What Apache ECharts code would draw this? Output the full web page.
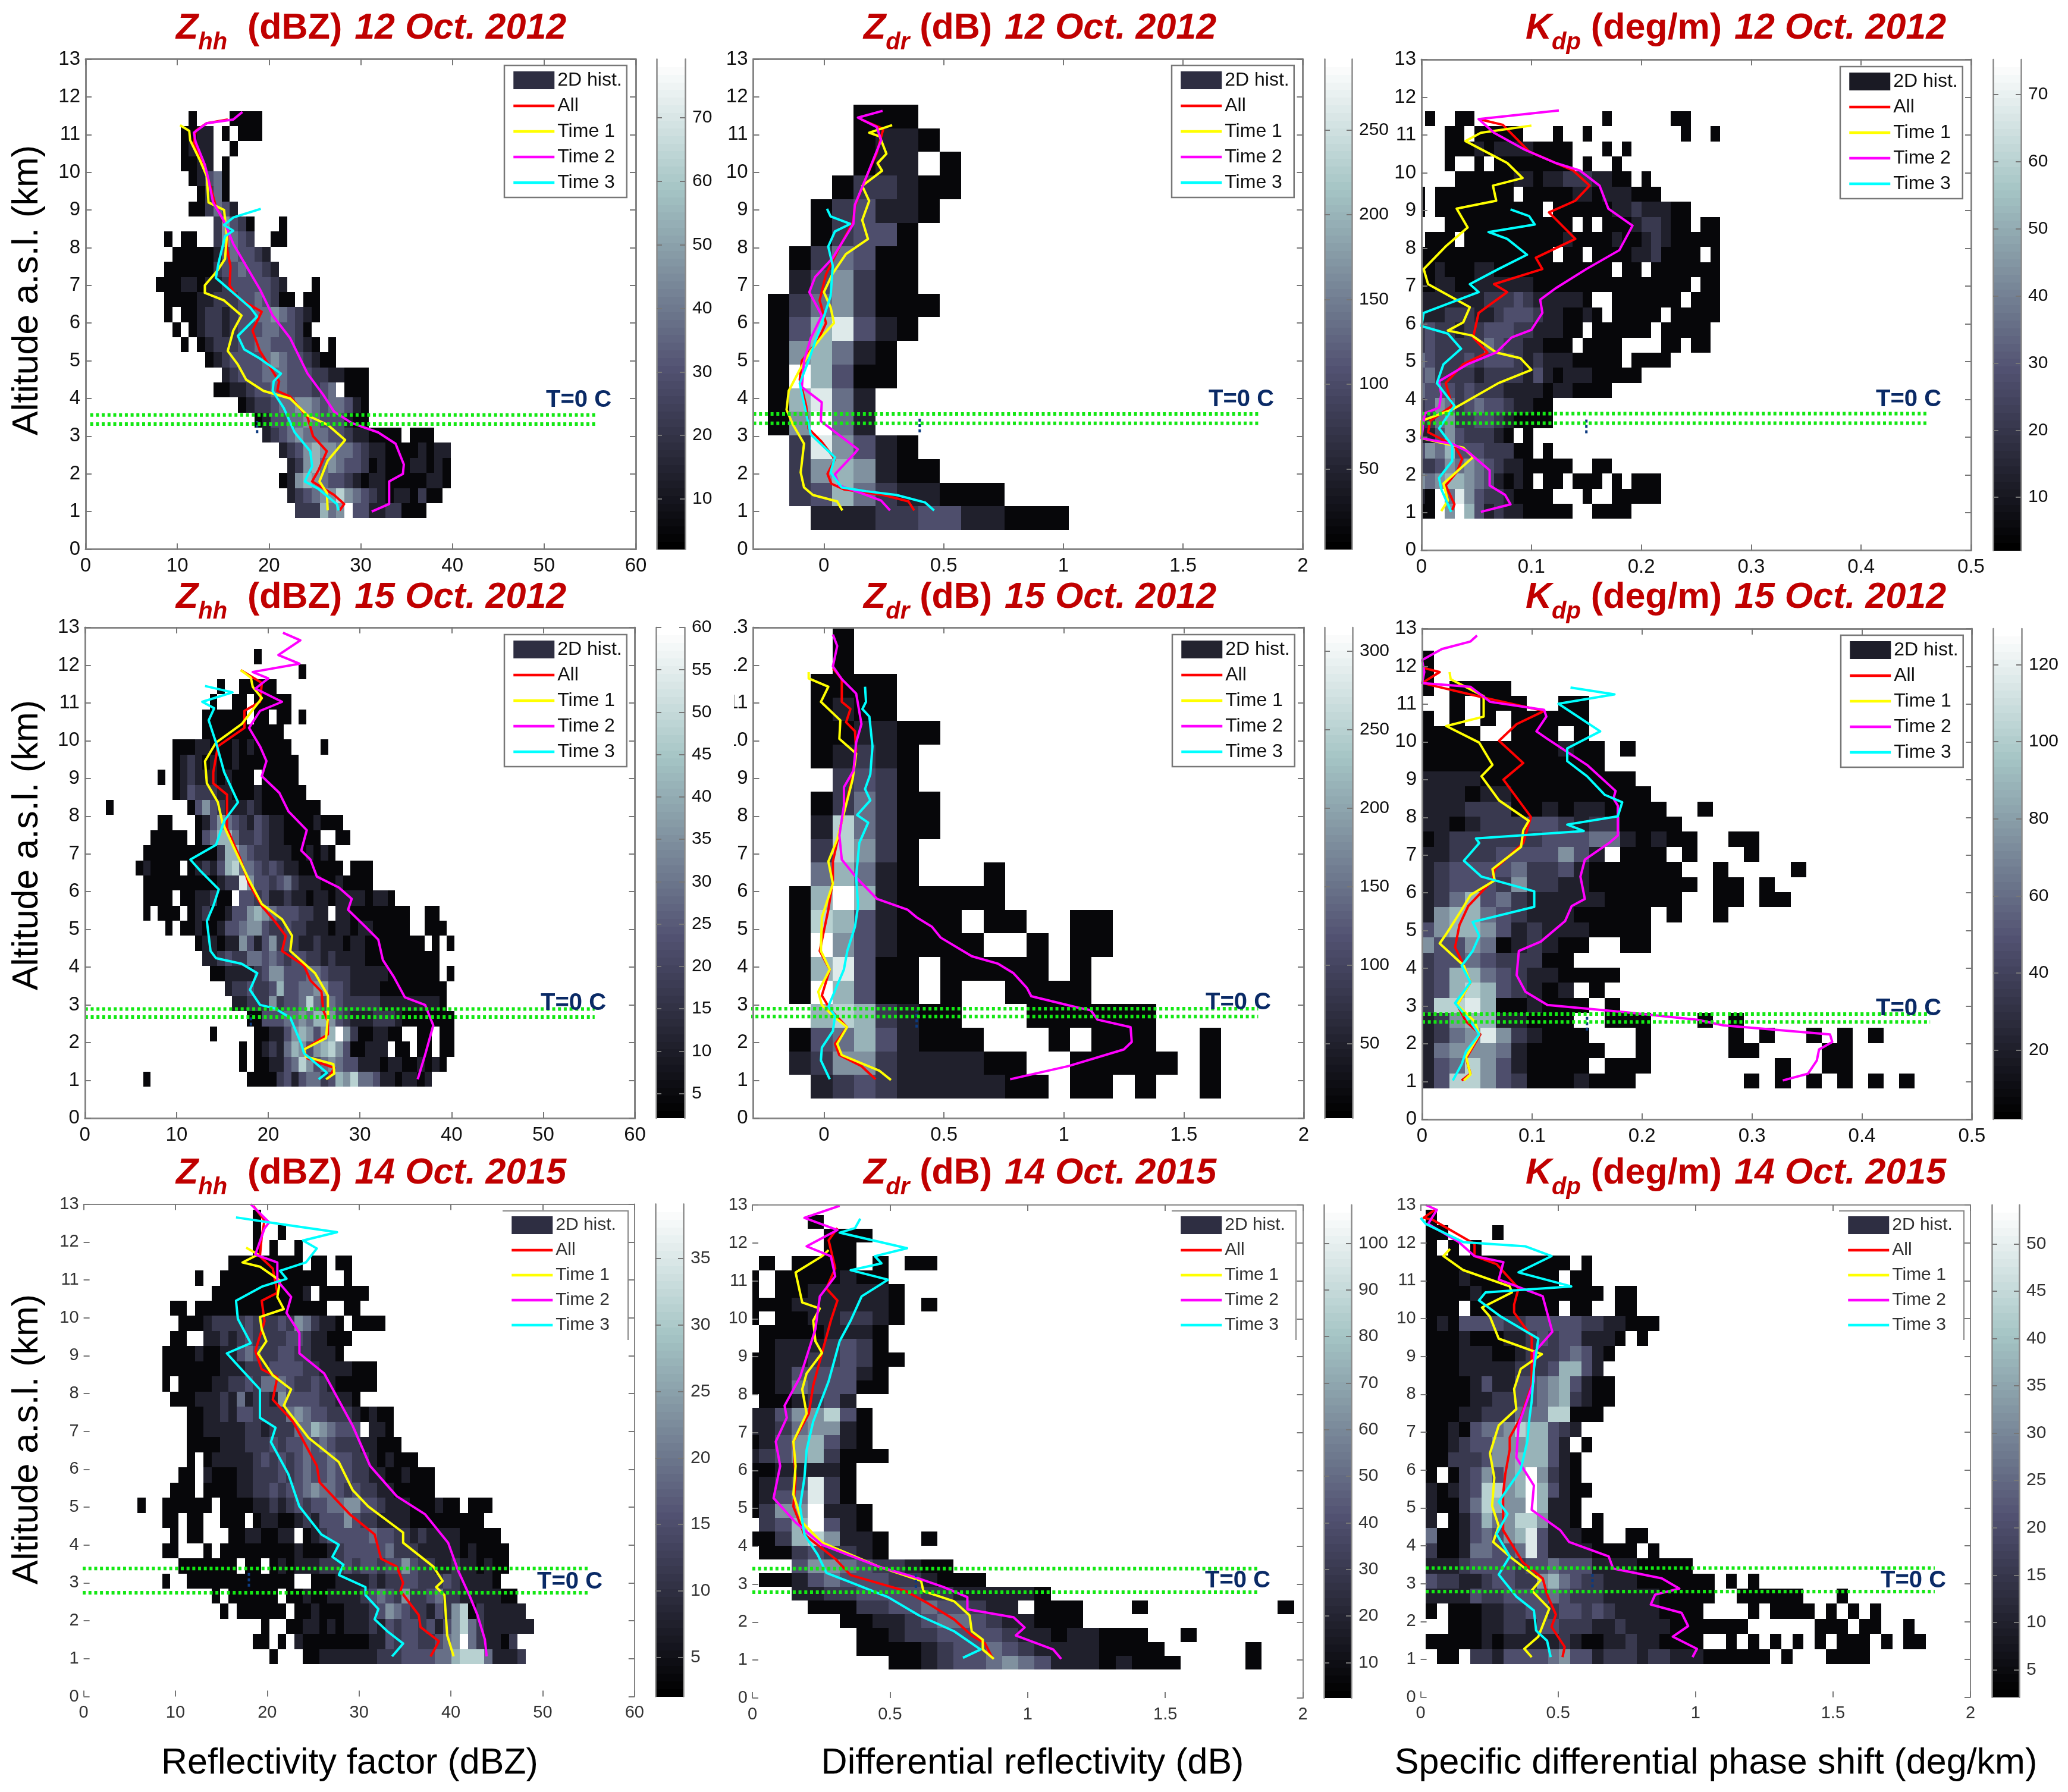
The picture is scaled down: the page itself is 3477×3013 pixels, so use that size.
<!DOCTYPE html>
<html><head><meta charset="utf-8">
<script src="https://cdn.jsdelivr.net/npm/echarts@6/dist/echarts.min.js"></script>
<style>html,body{margin:0;padding:0;background:#fff}#c{width:3477px;height:3013px}</style>
</head><body><div id="c"></div>
<script>
// ---------- 2D histograms: rows top to bottom, "startColumn:levels", level 0-9 of the colour bar, '.' = empty
const P1_hist=["4:0....0000","3:0011.0.000","3:0111..0","3:0011.0","4:01340","5:0240","4:002431","7:25320...0","1:0.00..25432..00","2:000001343321","1:00000023343321","0:0001101123333321...0","1:0000112223343200.00","1:0.00122123344543210","2:0.012212333443320","3:0.012223344333210.0","6:0123333454332100","8:123334443332211000","7:001123344333234.000","10:0122344554344310","12:01334454333100","13:12345444332110000.000","15:123565544321100001011","16:12564543320100011010","15:015654332101100000110","16:1234557543210110200","17:2226459331122000"];
const P2_hist=["4:000","4:0110","4:011.0","3:022100","2:023110","2:02330","1:024300","1:135200","0:02452000","0:0368310","0:056410","0:096300","0:06841","0:05941","1:285310","1:2565100","1:2364211000","2:111223311000"];
const P3_hist=["1:0..00.............0......00","3:00.00000...0..0.........0..0","3:0001011110000...0.0","3:0..0.00000000.0..0","4:000000110112221100.0","0:0.00000000.00000110111000","0:0.00000000000.00000011211100","3:0000000000000.0.000122100.00","1:000.00000000001000010012100000","0:00000000000000.00.00001120000.0","0:00100011000000000000.00.0000000","0:0011001111110000000000000000.00","0:111111122232111110..0000000.000","0:1112221123332110010.00000.00000","0:23221223332211100.000000.00000","0:2322222432211000.0000....00.00","0:432223233321211100000.0000","0:34222212222131011100000","0:43332322211110110000","0:23542343321100","0:12452233210000","0:1135322210.0","0:354633322200.0","0:2235454321100000..00","0:545665431010.00.000.0.000","0:10948532210000...0..00000","0:00.5963121100000..0000"];
const P4_hist=["20:0","26:0","15:0..00000","14:0..00.00000","13:000000.00.00.0","13:00000000000","9:0001100010100000....0","9:01210100100000000","7:0.01211101000.00000","9:013222110001000000","0:0..........035321112100000000","7:00...01354321321100001000","6:00000.03466422321100000..00","5:00000000002664322111001010","4:010000.012136744323211000000.000","5:0000000000122853323421110010000","5:0000.00112009332311211011011110110","5:0.000.0120013356543332211.1100000000..00","8:0.0010013345532232211101101100000..000","12:0110115313523211211101100000000.0.0","13:11232244343233221211110000000000","14:0011112355333443222111110000000.0","16:122322363344553321111000000000","17:11222523347434322222111111110","19:0033344546653211122210000000","14:0.....00113565356952001100..00.00","18:0.012146535675300111.00.00.00","18:0.00113475345433111011001010","5:0.............0000231344236574431101101"];
const P5_hist=["2:0","2:0","1:0000","1:0100","1:001100","1:01210","2:2320","1:024200","1:174200","1:27520","1:46410...0","0:0696100000","0:07631000.00..00","0:095310000..0.00","0:068300.00000.0","0:096300.0..0000","1:6762100...000000","0:034631000...0.000..0","0:12552111100..00000.0","1:12321111100.00.0..0"];
const P6_hist=["0:0","0:0","0:0.0000","2:0.000..00","0:0.0.0.00000","0:0000..000.0","0:000000000100.0","0:000000000000","0:11110000000000","0:111011000000000","0:1112220010110000..0","0:11012223321220000","0:012222223334410100..00","0:112223333531.000.0...0","0:12333342231000000..0....0","0:123332522110000000.00.0","0:12463421111100000..00.00","0:156643211100000.0..0","0:356653121110000","0:53354012100..00","0:2334322200","0:2366432110000","0:2367632101.0","0:27786001000.0","0:1256611000..000...0.0","0:12458521000...0.....0.0..0.0.0","0:145554100000..0.....00....00","0:13475310000.000........0..00","0:13775320001000.......0.0.0.0.0.0"];
const P7_hist=["14:0","14:0..0","14:0.0..0","11:000000000.00.00","7:0..0000000000000..0","9:000000000001.000000","4:00.0000000000000000..00","5:00012222322232542110.0000","4:00..112123222233211000","3:0000100113432233221110","3:00000001112223333221111000","3:0.000011223244432232100000","4:00011121412215333322110","6:0011213322224543322210100","6:001111122122244654333.110","6:00001112223233434322211000","6:0.01111123232343343322101000","5:00.1000112223234334332211001000","4:000.0000112232334544323221100000","0:0..000000.00001121232334455332111000100.000","3:00.00..000.0110012133353221111000000000","4:0.00...00110011.012333334332212111100000","3:00...0.00000000010001233333422211111010000","5:0000000.00.01011122232332335322112110100","3:0..0000000000000..00011112122332223211110","9:0.000000.0010011112343252234221111100","10:0.000000.0010001112354322132570211111","15:0..001101011121323323135742111111","14:00.0.10000000011323322345942110 2","16:0...001111111222333344677741112"].map(s=>s.replace(/ /g,''));
const P8_hist=["4:0","5:000","5:00","1:0.0000.0.00","0:0.0000100","0:0.00111110","0:0001111110.0","0:0.00112210","1:00001110","1:01112320","0:0011223200","0:001333310","0:001433300","1:001231","0:11355730","0:11245510","0:01356310","0:123562000","0:0011110","0:0123820","0:0134820","0:02559110","1:2369310","0:002675110..0","1:00232210","3:3554322100","1:00134333221000","3:1122333322111110","4:0002233433211.000...0........0","6:001123443211000","7:001223333211011000..0","7:0000123343211110000.....0","9:001233454311101000....0"];
const P9_hist=["0:0","0:00....0","0:0.0.0","0:0000000000000.0","0:000100000000.00","0:0000100000000000.00","0:000.00000000.00..00","0:010333322333332211000","0:000100011232331110.0","0:00011100122234310","0:0001111122236631","0:00001311334563100","0:00001122334562100","0:0001122244477000","0:00103445766321","0:0012335556631.0","0:00222355666310","0:0.023535695210","0:101237756963100","0:10024765596110","0:1.013645775110.0","0:4001343568311100..00","0:2001443348311110000.0","0:111233332334333111100000","0:32211233225643221110000000.0.0","0:11113223333432221111100000..000000...0","0:0.00011223323323211110000....0.0000.0.0.0","2:000112213322211211110000000......000.00..0","0:0000010111112 1001121100 00..0.0.0.0.0.000.0.00","1:00.221333345331222122111000000.0...0000"].map(s=>s.replace(/ /g,''));

// ---------- profiles: [x value, altitude km]
const P1_all=[[27.7,1.03],[28.2,1.2],[27.1,1.44],[24.7,1.8],[25.4,2.1],[26.3,2.6],[24.8,3],[24.2,3.5],[22.3,4.05],[20.9,4.2],[21.1,4.45],[19,5.26],[18.2,5.8],[19.2,6.3],[16.6,6.67],[15.7,7],[15.8,7.5],[15.4,8],[15.5,8.5],[14.2,9.1],[13.4,9.8],[13,10.15],[11.8,10.8],[12,11.1],[13.2,11.3],[15.5,11.4]];
const P1_t1=[[26.4,1.03],[26.3,1.5],[25.5,1.8],[26.4,2.35],[28.3,2.9],[26.4,3.3],[24.2,3.55],[22.3,4],[19.4,4.2],[17.5,4.5],[16.6,4.9],[15.5,5.26],[16.1,5.8],[17,6.2],[15.1,6.6],[13,6.8],[13,7],[14.4,7.4],[15.2,7.7],[15.4,8.3],[15.1,9],[13.4,9.2],[13.2,9.9],[12.5,10.3],[11.4,10.85],[11.3,11.1],[10.3,11.25]];
const P1_t2=[[31.2,1],[33.1,1.2],[33.1,1.8],[34.6,2],[34.7,2.25],[33.8,2.8],[31.9,3.1],[29,3.35],[27.1,3.65],[25.9,4.1],[24.2,4.66],[22.3,5.6],[20.4,6.2],[19,6.9],[17.3,7.6],[16.1,8.1],[15.1,8.7],[13.9,9.2],[13.4,9.8],[13,10.2],[12,10.8],[11.8,11.05],[13.2,11.3],[16.1,11.4],[17.1,11.6]];
const P1_t3=[[27.6,1.03],[27.4,1.2],[25.4,1.6],[23.9,1.8],[24.7,2.2],[24.5,2.6],[22.8,3.1],[21.6,3.75],[20.4,4.2],[20.5,4.45],[21.3,4.66],[19,5.06],[17.3,5.3],[16.6,5.66],[18.7,6.17],[18,6.4],[16.1,6.8],[14.2,7.2],[14.5,7.6],[14.9,8],[15.2,8.3],[16.1,8.45],[15.1,8.6],[16.1,8.8],[19.1,9.03]];
const P2_all=[[.377,1.03],[.353,1.27],[.248,1.44],[.083,1.59],[.031,1.74],[.015,2],[.046,2.39],[-.009,2.85],[-.064,3.2],[-.074,3.8],[-.101,4.5],[-.092,5],[-.028,5.5],[.009,6],[-.018,6.6],[.009,7.3],[.064,8],[.123,8.7],[.129,9.1],[.175,9.84],[.22,10.5],[.248,11.15],[.156,11.4]];
const P2_t1=[[.077,1.03],[.055,1.27],[-.046,1.44],[-.083,1.64],[-.097,2.04],[-.083,2.8],[-.129,3.3],[-.156,3.7],[-.147,4.2],[-.101,4.76],[-.055,5.26],[0,5.71],[.042,6],[.028,6.42],[0,6.82],[.037,7.32],[.092,7.83],[.184,8.23],[.16,8.73],[.189,9.24],[.16,9.64],[.243,10.04],[.224,10.24],[.261,10.49],[.233,10.95],[.189,11.05],[.285,11.25]];
const P2_t2=[[.276,1.03],[.239,1.29],[.156,1.49],[.064,1.69],[.046,1.99],[.129,2.55],[.142,2.65],[.028,3.2],[-.013,3.4],[-.009,3.9],[-.092,4.3],[-.083,5],[-.055,5.6],[-.009,6.2],[-.061,6.82],[-.037,7.22],[.037,7.73],[.123,8.63],[.129,9.13],[.175,9.84],[.239,10.85],[.221,11.2],[.142,11.45],[.245,11.63]];
const P2_t3=[[.46,1.03],[.423,1.24],[.303,1.44],[.175,1.54],[.074,1.64],[.028,2.04],[.046,2.44],[-.055,3.05],[-.074,3.6],[-.101,4.4],[-.064,5],[-.037,5.5],[-.009,6],[.028,6.72],[.037,7.52],[.018,8.03],[.046,8.43],[.11,8.63],[.028,8.83],[.013,9.03]];
const P3_all=[[.028,1.07],[.03,1.22],[.022,1.72],[.032,2.07],[.037,2.42],[.03,2.77],[.006,3.13],[.008,3.43],[.028,3.83],[.022,4.43],[.038,4.93],[.06,5.24],[.047,5.64],[.052,6.29],[.078,6.84],[.066,7.05],[.11,7.45],[.104,7.75],[.14,8.25],[.116,8.95],[.14,9.26],[.153,9.66],[.138,10.06],[.098,10.56],[.074,11.27],[.052,11.42]];
const P3_t1=[[.018,1.04],[.024,1.32],[.02,1.77],[.047,2.47],[.038,2.72],[0,2.97],[0,3.43],[.028,3.73],[.07,4.43],[.1,4.78],[.09,5.09],[.068,5.24],[.046,5.69],[.024,5.82],[.038,6.04],[.044,6.44],[.006,7.05],[.002,7.45],[.022,8.05],[.042,8.55],[.032,9.05],[.068,9.26],[.065,9.66],[.092,9.86],[.078,10.26],[.04,10.84],[.054,11.06],[.1,11.25]];
const P3_t2=[[.054,1.02],[.081,1.22],[.076,1.47],[.062,1.72],[.062,2.12],[.042,2.62],[.028,2.82],[0,2.97],[.003,3.63],[.016,3.78],[.018,4.13],[.016,4.48],[.042,4.93],[.068,5.24],[.082,5.64],[.1,5.84],[.11,6.29],[.108,6.64],[.122,6.94],[.15,7.45],[.18,7.95],[.192,8.6],[.17,9.05],[.162,9.66],[.144,10.06],[.122,10.26],[.094,10.61],[.066,11.06],[.052,11.42],[.125,11.65]];
const P3_t3=[[.027,1.02],[.018,1.62],[.016,1.92],[.028,2.37],[.028,2.77],[.016,3.23],[.03,3.83],[.014,4.43],[.02,4.93],[.036,5.34],[.024,5.74],[0,5.94],[.002,6.29],[.052,6.84],[.044,7.05],[.07,7.45],[.096,7.83],[.078,8.25],[.061,8.43],[.103,8.63],[.098,8.85],[.081,9.03]];
const P4_all=[[26.5,1.03],[27.2,1.33],[24.3,1.58],[23.9,1.82],[26.5,2.22],[26.5,2.56],[26,2.86],[25.8,3.35],[24.6,3.65],[23.9,4.04],[21.5,4.43],[21.9,4.83],[20.7,5.22],[19.3,5.62],[17.9,6.21],[16.9,6.9],[15.5,7.68],[15.5,8.18],[15.5,8.57],[14,8.87],[14,9.16],[14.5,9.85],[17.4,10.34],[17.4,10.79],[19.1,11.03],[19.3,11.53],[17,11.87]];
const P4_t1=[[26.3,1.03],[27.2,1.18],[27.1,1.43],[24.1,1.63],[23.9,1.82],[26.3,2.12],[26.5,2.66],[26.5,3.25],[25.1,3.84],[22.4,4.43],[22.6,4.83],[21.5,5.27],[19.3,5.67],[17.9,6.31],[16.2,7.19],[15,7.83],[14.5,8.37],[13.3,8.87],[13.1,9.46],[14.3,9.95],[17.1,10.44],[19.3,11.13],[18.3,11.43],[18.1,11.67],[17,11.87]];
const P4_t2=[[36.3,1.03],[37.1,1.67],[38,2.46],[37.1,3],[34.9,3.2],[33.7,3.74],[32.5,4.19],[32,4.73],[30.6,5.07],[28.7,5.52],[29.1,5.81],[27.7,6.11],[25.3,6.4],[24.6,6.85],[23.6,7.09],[24.2,7.63],[22.2,8.13],[21.2,8.62],[19.3,9.06],[19.8,9.46],[19.1,9.85],[17.9,10.34],[19.1,10.79],[21.5,11.03],[18.6,11.38],[20,11.65],[18.3,11.82],[23.4,12.04],[21.1,12.27],[23.5,12.66],[21.6,12.86]];
const P4_t3=[[25.5,1.03],[26.4,1.2],[23.9,1.72],[23.6,1.97],[22.4,2.66],[20.7,2.91],[19.1,3],[18,3.4],[18.8,3.84],[17.1,4.09],[14.3,4.24],[13.7,4.43],[13.3,5.22],[14,5.62],[14.6,6.06],[12.6,6.55],[11.5,6.85],[14.3,7.24],[15.2,7.88],[16.7,8.37],[15.2,9.16],[14.3,9.95],[13.5,10.54],[14.1,10.86],[12.8,11.03],[16.1,11.28],[13.1,11.45]];
const P5_all=[[.215,1.03],[.156,1.38],[.064,1.67],[.046,1.97],[.096,2.41],[.028,2.86],[-.009,3.25],[.024,3.94],[-.018,4.43],[.018,5.52],[.037,6.31],[.037,6.8],[.074,7.88],[.119,9.06],[.134,9.75],[.129,10.25],[.092,10.49],[.11,10.84],[.074,11.03],[.074,11.63],[.037,11.92]];
const P5_t1=[[.279,1.01],[.23,1.26],[.074,1.67],[.055,1.97],[.096,2.41],[.037,2.71],[-.009,3],[-.024,3.35],[.024,3.94],[-.013,4.43],[-.009,5.32],[.037,6.21],[.018,6.8],[.055,7.39],[.083,8.08],[.119,8.97],[.134,9.66],[.064,10.05],[.068,10.54],[-.013,11.03],[.018,11.43],[-.064,11.65],[-.064,11.82]];
const P5_t2=[[.776,1.03],[1.02,1.38],[1.25,1.82],[1.283,2.02],[1.278,2.41],[1.14,2.61],[1.112,2.86],[1.057,2.93],[.864,3.23],[.846,3.45],[.79,3.84],[.726,4.09],[.616,4.29],[.487,4.78],[.45,5.07],[.386,5.32],[.349,5.52],[.221,5.81],[.138,6.35],[.074,6.85],[.064,7.49],[.083,8.28],[.083,8.77],[.123,9.21],[.134,9.95],[.156,10.44],[.134,11.25],[.074,11.63],[.037,11.97],[.055,12.51],[.037,12.81]];
const P5_t3=[[.024,1.03],[-.013,1.53],[-.009,1.87],[.037,2.31],[.046,2.71],[.018,2.96],[.083,3.94],[.097,4.43],[.129,5.07],[.142,5.62],[.134,6.4],[.147,7.29],[.184,7.83],[.138,8.03],[.193,8.42],[.171,8.72],[.193,9.11],[.202,9.85],[.189,10.64],[.16,10.84],[.175,11.03],[.171,11.43]];
const P6_all=[[.036,1.03],[.044,1.21],[.04,1.61],[.053,2.25],[.04,2.59],[.032,3.03],[.044,3.63],[.038,4.07],[.03,4.56],[.034,5.15],[.042,5.65],[.064,6.33],[.066,6.63],[.092,7.32],[.099,8.01],[.074,9],[.092,9.44],[.07,10.03],[.086,10.47],[.111,10.82],[.058,11.16],[0,11.56],[.016,11.85],[0,11.97]];
const P6_t1=[[.038,1.03],[.044,1.19],[.04,1.66],[.052,2.25],[.048,2.59],[.032,3.03],[.044,3.63],[.038,4.07],[.016,4.66],[.022,4.91],[.036,5.55],[.044,5.94],[.066,6.33],[.064,6.63],[.09,7.22],[.092,7.66],[.097,7.91],[.07,8.45],[.054,9.09],[.064,9.39],[.052,9.98],[.022,10.42],[.056,10.67],[.056,11.21],[.026,11.66],[.025,11.85]];
const P6_t2=[[.328,1.03],[.351,1.21],[.359,1.56],[.361,1.85],[.373,2.05],[.371,2.25],[.274,2.49],[.25,2.64],[.184,2.84],[.114,3.03],[.094,3.38],[.086,3.82],[.088,4.46],[.108,4.71],[.13,5.25],[.136,5.65],[.148,5.84],[.144,6.43],[.148,6.88],[.17,7.32],[.178,7.52],[.178,8.31],[.174,8.5],[.176,8.7],[.15,9.39],[.114,10.08],[.104,10.28],[.113,10.67],[.111,10.85],[.062,11.06],[.044,11.46],[0,11.56],[.002,11.85],[0,12.17],[.018,12.46],[.044,12.66],[.05,12.82]];
const P6_t3=[[.028,1.03],[.036,1.46],[.04,1.8],[.052,2.25],[.044,2.59],[.03,3.08],[.044,3.63],[.036,4.07],[.046,4.46],[.052,4.86],[.046,5.23],[.102,5.63],[.102,6.04],[.054,6.43],[.038,6.85],[.052,7.32],[.049,7.44],[.147,7.64],[.132,7.81],[.178,8.03],[.182,8.4],[.166,8.6],[.15,9.09],[.132,9.49],[.132,9.83],[.162,10.28],[.124,11.01],[.175,11.26],[.135,11.44]];
const P7_all=[[37.8,1.06],[38.7,1.46],[36.7,1.83],[36.5,2.15],[34.5,2.79],[34.8,3],[34.1,3.43],[32.4,3.64],[31.7,4.28],[29,4.81],[25.7,5.66],[25.4,6.09],[24,6.72],[22.8,7.26],[20.6,7.84],[21.1,8.43],[19.4,8.64],[18.7,9.12],[19.7,9.91],[19.4,10.45],[21.1,10.66],[20.6,11.3],[19.2,11.62],[19.4,12.15],[19.7,12.57],[18.5,12.95]];
const P7_t1=[[40.3,1.06],[39.6,1.62],[39.3,2.68],[38.4,2.89],[39.1,3.05],[38.1,3.43],[34.8,4.06],[34.8,4.33],[31,5.02],[29.3,5.45],[27.8,6.19],[24.5,6.83],[21.8,7.68],[22.6,8.11],[20.6,8.48],[19,9.06],[19.9,9.38],[19.4,9.7],[19.2,10.02],[21.8,10.23],[21.1,10.55],[21.4,10.98],[19.2,11.35],[17.3,11.46],[19,11.67],[17.7,11.85]];
const P7_t2=[[43.9,1.06],[43.7,1.51],[42.9,2.15],[42,2.68],[40.8,3.32],[39.7,4.06],[37.2,4.81],[34.1,5.29],[31.2,6.09],[29.3,7.15],[26.2,8.53],[23.5,9.06],[23.5,9.6],[22.1,10.13],[22.6,10.55],[21.1,10.98],[21.1,11.46],[18.7,11.67],[19.7,12.36],[20.2,12.52],[18.2,13]];
const P7_t3=[[33.6,1.06],[34.8,1.4],[33.1,1.72],[31.7,2.04],[32.1,2.31],[30.7,2.68],[30.7,2.89],[27.8,3.21],[28.3,3.48],[27.1,3.69],[27.8,4.01],[25.9,4.28],[23.5,5.02],[22.3,5.87],[20.4,6.72],[20.9,7.1],[19.2,7.36],[19.2,8.11],[16.8,8.74],[15.6,9.06],[18.2,9.33],[16.8,9.97],[16.6,10.45],[19.4,10.82],[22.1,11.03],[21.4,11.24],[24.2,11.46],[25.4,11.83],[23.9,12.04],[27.6,12.26],[20.2,12.52],[16.6,12.65]];
const P8_all=[[.874,1.03],[.845,1.44],[.797,1.65],[.733,2.07],[.637,2.5],[.557,2.82],[.357,3.24],[.301,3.67],[.189,4.31],[.149,5.05],[.157,5.8],[.149,6.76],[.205,7.5],[.221,8.24],[.253,9.1],[.285,9.95],[.309,10.48],[.269,10.8],[.301,11.33],[.277,12.07],[.309,12.39]];
const P8_t1=[[.877,1.03],[.837,1.28],[.837,1.54],[.797,1.76],[.789,2.18],[.733,2.55],[.621,2.82],[.613,3.09],[.461,3.46],[.253,4.1],[.181,4.63],[.149,5.37],[.157,6.12],[.149,6.76],[.197,7.5],[.181,8.14],[.197,8.56],[.253,9.1],[.229,9.41],[.221,9.95],[.245,10.27],[.181,10.43],[.157,11.22],[.253,11.65],[.277,11.81]];
const P8_t2=[[1.122,1.03],[1.093,1.28],[.957,1.65],[.989,1.86],[.949,2.13],[.781,2.34],[.781,2.66],[.693,2.93],[.589,3.19],[.461,3.46],[.253,4.04],[.157,4.63],[.077,5.27],[.101,6.12],[.085,6.76],[.125,7.39],[.117,7.71],[.173,8.46],[.192,8.88],[.229,9.73],[.245,10.59],[.301,11.12],[.285,11.65],[.197,11.91],[.309,12.34],[.189,12.66],[.317,12.98]];
const P8_t3=[[.765,1.06],[.829,1.28],[.733,1.76],[.605,2.18],[.493,2.66],[.365,3.03],[.269,3.3],[.237,3.78],[.189,4.31],[.173,5.05],[.189,5.8],[.197,6.54],[.221,7.29],[.277,8.35],[.317,9.41],[.357,9.95],[.397,10.59],[.493,11.03],[.357,11.28],[.469,11.46],[.445,11.65],[.562,11.86],[.317,12.27],[.373,12.39],[.392,12.64]];
const P9_all=[[.516,1.06],[.524,1.33],[.476,1.86],[.492,2.18],[.46,2.71],[.444,3.14],[.372,3.56],[.3,4.41],[.3,5.37],[.308,5.9],[.324,6.54],[.324,6.86],[.364,7.39],[.404,8.24],[.404,9.2],[.404,9.52],[.34,10.16],[.34,10.37],[.356,10.8],[.276,11.44],[.196,11.65],[.196,11.97],[.043,12.61],[.011,12.66],[.051,12.87]];
const P9_t1=[[.404,1.06],[.377,1.28],[.428,1.6],[.468,2.34],[.404,2.82],[.436,3.09],[.332,3.67],[.264,4.1],[.284,4.52],[.26,5.05],[.268,5.8],[.252,6.44],[.284,7.18],[.348,7.61],[.34,8.14],[.364,8.67],[.441,9.06],[.284,9.47],[.252,10.05],[.223,10.29],[.332,10.69],[.324,10.85],[.155,11.28],[.083,11.65],[.107,11.84]];
const P9_t2=[[.989,1.06],[1.005,1.28],[.917,1.6],[.973,1.88],[.949,2.23],[.837,2.45],[.853,2.71],[.941,2.87],[.877,3.14],[.7,3.4],[.684,3.72],[.54,4.1],[.508,4.41],[.404,4.95],[.412,5.59],[.348,6.33],[.356,7.18],[.412,8.35],[.412,9.1],[.479,9.65],[.444,10.59],[.284,11.03],[.301,11.49],[.196,11.65],[.139,12.02],[.027,12.5],[.059,12.87],[.019,13]];
const P9_t3=[[.473,1.06],[.46,1.49],[.42,1.76],[.412,2.29],[.348,2.66],[.284,3.24],[.324,3.72],[.276,4.31],[.316,4.84],[.284,5.16],[.364,6.01],[.388,6.76],[.396,7.39],[.404,7.82],[.412,8.67],[.428,9.47],[.292,10.05],[.212,10.48],[.236,10.69],[.548,10.85],[.356,11.22],[.476,11.65],[.38,11.91],[.155,12.02],[.019,12.5],[0,12.66]];

// ---------- tick labels
const altTicks=[0,1,2,3,4,5,6,7,8,9,10,11,12,13];
const zhTicks=[0,10,20,30,40,50,60];
const zdTicks=[0,.5,1,1.5,2];
const kd1Ticks=[0,.1,.2,.3,.4,.5];
const kd2Ticks=[0,.5,1,1.5,2];
const cb1=[10,20,30,40,50,60,70],cb2=[50,100,150,200,250],cb3=[10,20,30,40,50,60,70];
const cb4=[5,10,15,20,25,30,35,40,45,50,55,60],cb5=[50,100,150,200,250,300],cb6=[20,40,60,80,100,120];
const cb7=[5,10,15,20,25,30,35],cb8=[10,20,30,40,50,60,70,80,90,100],cb9=[5,10,15,20,25,30,35,40,45,50];

// ---------- panel layout table
const FONT='"Liberation Sans",Arial,sans-serif';
const panels=[
 {hist:P1_hist,bin:[7.68,.893,.825,.4],lines:[P1_all,P1_t1,P1_t2,P1_t3],box:[144,99.5,1069,923.5],xr:[0,60],xt:zhTicks,cb:[2.1,79.2],cbt:cb1,cbx:[1104,1152],iso:[3.56,3.32],isoX:[.5,55.8],mk:[18.7,3.08,3.4],lg:[848,110,210,212],lc:'#2e2e42',T:[973,673],title:['Z','hh','  (dBZ) ','12 Oct. 2012',296,48]},
 {hist:P2_hist,bin:[-.235,.0899,.51,.627],lines:[P2_all,P2_t1,P2_t2,P2_t3],box:[1266.5,99.5,2190.5,923.5],xr:[-.295,2],xt:zdTicks,cb:[2.7,291.7],cbt:cb2,cbx:[2227,2273],iso:[3.59,3.34],isoX:[-.295,1.825],mk:[.4,3.1,3.5],lg:[1970,110,210,212],lc:'#2e2e42',T:[2087,672],title:['Z','dr',' (dB) ','12 Oct. 2012',1452,48]},
 {hist:P3_hist,bin:[-.0057,.00895,.834,.4],lines:[P3_all,P3_t1,P3_t2,P3_t3],box:[2390,100,3314,925.4],xr:[0,.5],xt:kd1Ticks,cb:[2.1,75.2],cbt:cb3,cbx:[3351,3398],iso:[3.62,3.37],isoX:[0,.461],mk:[.15,3.1,3.5],lg:[3094,112,210,212],lc:'#1a1a24',T:[3209,672],title:['K','dp',' (deg/m) ','12 Oct. 2012',2565,48]},
 {hist:P4_hist,bin:[2.3,.808,.83,.4],lines:[P4_all,P4_t1,P4_t2,P4_t3],box:[142.8,1055,1067.6,1880],xr:[0,60],xt:zhTicks,cb:[2.1,60],cbt:cb4,cbx:[1103,1151],iso:[2.89,2.68],isoX:[0,55.6],mk:[18.1,2.45,2.75],lg:[848,1067,209,211],lc:'#2e2e42',T:[964,1687],title:['Z','hh','  (dBZ) ','15 Oct. 2012',296,1005]},
 {hist:P5_hist,bin:[-.145,.09,.52,.625],lines:[P5_all,P5_t1,P5_t2,P5_t3],box:[1266.5,1055,2192,1880],xr:[-.295,2],xt:zdTicks,cb:[2.4,315],cbt:cb5,cbx:[2227,2274],iso:[2.9,2.69],isoX:[-.31,1.81],mk:[.386,2.4,2.85],lg:[1971,1067,210,211],lc:'#23232f',T:[2082,1686],title:['Z','dr',' (dB) ','15 Oct. 2012',1452,1005]},
 {hist:P6_hist,bin:[-.0033,.0141,.82,.4],lines:[P6_all,P6_t1,P6_t2,P6_t3],box:[2391,1057,3315.4,1882],xr:[0,.5],xt:kd1Ticks,cb:[2.1,129.3],cbt:cb6,cbx:[3351,3399],iso:[2.79,2.58],isoX:[0,.462],mk:[.15,2.35,2.75],lg:[3095,1068,210,212],lc:'#1e1e2a',T:[3209,1696],title:['K','dp',' (deg/m) ','15 Oct. 2012',2565,1005]},
 {hist:P7_hist,bin:[5.85,.9,.85,.4],lines:[P7_all,P7_t1,P7_t2,P7_t3],box:[140.6,2024.6,1066.8,2852.5],xr:[0,60],xt:zhTicks,cb:[2.04,39.1],cbt:cb7,cbx:[1102,1149],iso:[3.38,2.74],isoX:[-.1,55],mk:[18,2.9,3.3],lg:[845,2036,211,217],lc:'#2e2e42',T:[958,2660],title:['Z','hh','  (dBZ) ','14 Oct. 2015',296,1973],r3:1},
 {hist:P8_hist,bin:[-.035,.0589,.755,.363],lines:[P8_all,P8_t1,P8_t2,P8_t3],box:[1265,2026,2190.6,2855],xr:[0,2],xt:zdTicks,cb:[2.4,108.2],cbt:cb8,cbx:[2226,2272],iso:[3.41,2.79],isoX:[0,1.837],mk:[.594,2.9,3.3],lg:[1970,2036,209,217],lc:'#2e2e42',T:[2081,2658],title:['Z','dr',' (dB) ','14 Oct. 2015',1452,1973],r3:1},
 {hist:P9_hist,bin:[.019,.0404,.87,.4],lines:[P9_all,P9_t1,P9_t2,P9_t3],box:[2388.6,2026,3313,2853.7],xr:[0,2],xt:kd2Ticks,cb:[2.1,54.1],cbt:cb9,cbx:[3349,3395],iso:[3.41,2.79],isoX:[.019,1.87],mk:[.625,2.9,3.3],lg:[3092,2036,210,217],lc:'#2e2e42',T:[3217,2658],title:['K','dp',' (deg/m) ','14 Oct. 2015',2565,1973],r3:1}
];
const names=['All','Time 1','Time 2','Time 3'],colors=['#ff0000','#ffff00','#ff00ff','#00ffff'];

// MATLAB "bone" colour scale, 64 steps
function bone(t){t=Math.max(0,Math.min(1,Math.floor(t*63.999)/63));
 const c=v=>Math.max(0,Math.min(1,v));
 const r=(7*t+c((t-.74)/.26))/8,g=(7*t+c((t-.365)/.375))/8,b=(7*t+c(t/.365))/8;
 return 'rgb('+Math.round(r*255)+','+Math.round(g*255)+','+Math.round(b*255)+')';}

function cells(p){const [x0,dx,alt0,dy]=p.bin,[lo,hi]=p.cb,n=p.hist.length,out=[];
 p.hist.forEach((row,r)=>{const k=row.indexOf(':'),s=+row.slice(0,k),txt=row.slice(k+1);
  for(let i=0;i<txt.length;i++){const ch=txt[i];if(ch==='.')continue;
   const a=alt0+(n-1-r)*dy,x=x0+(s+i)*dx;
   out.push([x,a,x+dx,a+dy,lo+(+ch+.35)/9.35*(hi-lo)]);}});
 return out;}

const AXC='#858585';
const grid=[],xAxis=[],yAxis=[],series=[],legend=[],title=[],gfx=[];
panels.forEach((p,i)=>{
 const [l,t,r,b]=p.box,G=grid.length,r3=!!p.r3,fs=r3?29:33,tc=r3?'#333':'#111';
 grid.push({left:l,top:t,width:r-l,height:b-t,show:false});
 const ax=(extra)=>Object.assign({gridIndex:G,type:'value',splitLine:{show:false},z:6,
   axisTick:{inside:true,length:10,lineStyle:{color:'#777',width:2}},
   axisLine:{show:true,onZero:false,lineStyle:{color:AXC,width:r3?2:3}}},extra);
 const xi=xAxis.length,yi=yAxis.length;
 const lab=(vals,m)=>({show:true,customValues:vals,margin:m,fontSize:fs,color:tc,fontFamily:FONT});
 xAxis.push(ax({position:'bottom',min:p.xr[0],max:p.xr[1],axisLabel:lab(p.xt,r3?13:12),axisTick:{inside:true,customValues:p.xt,length:10,lineStyle:{color:'#777',width:2}},axisLine:{show:!r3,onZero:false,lineStyle:{color:AXC,width:3}}}));
 xAxis.push(ax({position:'top',min:p.xr[0],max:p.xr[1],axisLabel:{show:false},axisTick:{inside:true,customValues:p.xt,length:10,lineStyle:{color:'#777',width:2}}}));
 yAxis.push(ax({position:'left',min:0,max:13,axisLabel:lab(altTicks,r3?8:9),axisTick:{inside:true,customValues:altTicks,length:10,lineStyle:{color:'#777',width:2}},axisLine:{show:!r3,onZero:false,lineStyle:{color:AXC,width:3}}}));
 yAxis.push(ax({position:'right',min:0,max:13,axisLabel:{show:false},axisTick:{inside:true,customValues:altTicks,length:10,lineStyle:{color:'#777',width:2}}}));
 const idx={xAxisIndex:xi,yAxisIndex:yi};
 const [lo,hi]=p.cb;
 series.push(Object.assign({type:'custom',name:'2D hist.',data:cells(p),encode:{x:[0,2],y:[1,3]},clip:true,z:1,silent:true,animation:false,
  renderItem(params,api){const a=api.coord([api.value(0),api.value(1)]),c=api.coord([api.value(2),api.value(3)]);
   const X=Math.round(a[0]),X2=Math.round(c[0]),Y=Math.round(c[1]),Y2=Math.round(a[1]);
   const s=params.coordSys,shape=echarts.graphic.clipRectByRect({x:X,y:Y,width:X2-X,height:Y2-Y},{x:s.x,y:s.y,width:s.width,height:s.height});
   return shape&&{type:'rect',shape,style:{fill:bone((api.value(4)-lo)/(hi-lo))}};}},idx));
 p.lines.forEach((d,k)=>series.push(Object.assign({type:'line',name:names[k],data:d,symbol:'none',showSymbol:false,clip:true,z:3+k*.1,silent:true,animation:false,
   lineStyle:{color:colors[k],width:4,join:'round'},itemStyle:{color:colors[k]}},idx)));
 p.iso.forEach(a=>series.push(Object.assign({type:'line',name:'T=0 C',data:[[p.isoX[0],a],[p.isoX[1],a]],symbol:'none',z:5,clip:false,silent:true,animation:false,
   lineStyle:{color:'#14e814',width:6,type:[5,4.7]}},idx)));
 series.push(Object.assign({type:'line',name:'marker',data:[[p.mk[0],p.mk[1]],[p.mk[0],p.mk[2]]],symbol:'none',z:4,silent:true,animation:false,lineStyle:{color:'#0b3a80',width:4,type:[5,4]}},idx));

 legend.push({show:true,orient:'vertical',left:p.lg[0],top:p.lg[1],width:p.lg[2],height:p.lg[3],selectedMode:false,z:8,
  backgroundColor:'#fff',borderColor:r3?'transparent':'#777',borderWidth:r3?0:2.5,padding:[9,8,9,13],
  itemWidth:69,itemHeight:30,itemGap:r3?12:11,align:'left',
  textStyle:{fontSize:r3?30:32,lineHeight:30,color:r3?'#333':'#111',fontFamily:FONT},
  data:[{name:'2D hist.',icon:'rect',itemStyle:{color:p.lc,borderWidth:0}},...names.map((n,k)=>({name:n,itemStyle:{color:'transparent',borderWidth:0},lineStyle:{color:colors[k],width:4.5}}))]});

 const [A,B,C,D,tl,tc0]=p.title;
 title.push({left:tl,top:tc0-44,padding:0,text:'{z|'+A+'}{s|'+B+'}{t|'+C+'}{d|'+D+'}',
  textStyle:{rich:{z:{fontFamily:FONT,fontSize:61,fontWeight:'bold',fontStyle:'italic',color:'#c00000',lineHeight:88},
   s:{fontFamily:FONT,fontSize:40,fontWeight:'bold',fontStyle:'italic',color:'#c00000',lineHeight:88,verticalAlign:'bottom'},
   t:{fontFamily:FONT,fontSize:61,fontWeight:'bold',color:'#c00000',lineHeight:88},
   d:{fontFamily:FONT,fontSize:61,fontWeight:'bold',fontStyle:'italic',color:'#c00000',lineHeight:88,padding:[0,0,0,4]}}}});

 // colour bar
 const Gb=grid.length,[cl,cr]=p.cbx;
 grid.push({left:cl,top:t,width:cr-cl,height:b-t,show:false});
 const xb=xAxis.length,yb=yAxis.length;
 xAxis.push({gridIndex:Gb,type:'value',min:0,max:1,show:false});
 const cbTick={inside:true,customValues:p.cbt,length:9,lineStyle:{color:'#777',width:2}};
 const cbLine={show:true,onZero:false,lineStyle:{color:'#8a8a8a',width:2.5}};
 yAxis.push({gridIndex:Gb,type:'value',position:'right',min:lo,max:hi,z:6,splitLine:{show:false},axisLine:cbLine,axisTick:cbTick,
   axisLabel:{show:true,customValues:p.cbt,margin:12,fontSize:30,color:tc,fontFamily:FONT}});
 yAxis.push({gridIndex:Gb,type:'value',position:'left',min:lo,max:hi,z:6,splitLine:{show:false},axisLine:cbLine,axisTick:cbTick,axisLabel:{show:false}});
 const bands=[];for(let k=0;k<64;k++)bands.push([0,lo+(hi-lo)*k/64,1,lo+(hi-lo)*(k+1)/64]);
 series.push({type:'custom',name:'colour bar',xAxisIndex:xb,yAxisIndex:yb,data:bands,encode:{x:[0,2],y:[1,3]},z:1,silent:true,animation:false,
  renderItem(params,api){const a=api.coord([0,api.value(1)]),c=api.coord([1,api.value(3)]);
   const Y=Math.floor(c[1]),Y2=Math.ceil(a[1]);
   return {type:'rect',shape:{x:a[0],y:Y,width:c[0]-a[0],height:Y2-Y},style:{fill:bone(params.dataIndex/63)}};}});

 gfx.push({type:'text',x:p.T[0],y:p.T[1],z:50,style:{text:'T=0 C',fontFamily:FONT,fontSize:40,fontWeight:'bold',fill:'#0a2a66',textAlign:'center',textVerticalAlign:'middle'}});
 if(r3){const [lx,ly,lw,lh]=p.lg;
  gfx.push({type:'polyline',z:50,shape:{points:[[lx,ly],[lx+lw,ly],[lx+lw,ly+lh]]},style:{stroke:'#888',lineWidth:2,fill:null}});}
});

const yLabelAt=[[46,488],[46,1421],[46,2420]];
yLabelAt.forEach(a=>gfx.push({type:'text',x:a[0],y:a[1],rotation:Math.PI/2,z:50,style:{text:'Altitude a.s.l. (km)',fontFamily:FONT,fontSize:61,fill:'#000',textAlign:'center',textVerticalAlign:'middle'}}));
[['Reflectivity factor (dBZ)',588],['Differential reflectivity (dB)',1736],['Specific differential phase shift (deg/km)',2885]].forEach(a=>
 gfx.push({type:'text',x:a[1],y:2965,z:50,style:{text:a[0],fontFamily:FONT,fontSize:61,fill:'#000',textAlign:'center',textVerticalAlign:'middle'}}));
gfx.push({type:'rect',z:60,shape:{x:1199,y:1030,width:35,height:245},style:{fill:'#fff'}});

const chart=echarts.init(document.getElementById('c'),null,{renderer:'canvas',width:3477,height:3013,devicePixelRatio:1});
chart.setOption({backgroundColor:'#fff',animation:false,title,legend,grid,xAxis,yAxis,series,graphic:{elements:gfx}});
</script></body></html>
